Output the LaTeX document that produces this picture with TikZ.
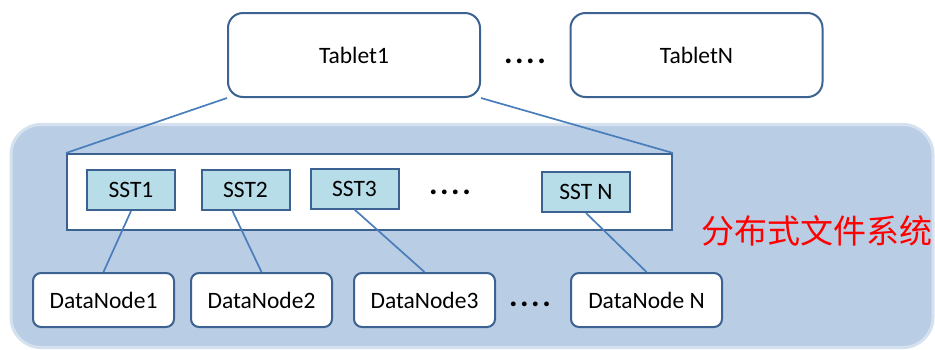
\documentclass[tikz,border=0pt]{standalone}
\usepackage{fontspec}
\setmainfont{Carlito}
\newfontfamily\cjkfont{Noto Sans CJK SC}
\definecolor{edgeblue}{HTML}{3B6290}
\definecolor{linkblue}{HTML}{4A7EBB}
\definecolor{bgblue}{HTML}{B9CDE5}
\definecolor{bgedge}{HTML}{D5E1EF}
\definecolor{sstfill}{HTML}{B7DDE8}
\newcommand{\ellipsisdots}{.\kern2.5pt.\kern2.5pt.\kern2.5pt.}
\tikzset{
  tablet/.style={draw=edgeblue, line width=2pt, fill=white, rounded corners=15pt,
    minimum width=252pt, minimum height=84pt, inner sep=0pt, font=\fontsize{23.5}{26}\selectfont},
  sstbox/.style={draw=edgeblue, line width=2pt, fill=sstfill,
    minimum width=88pt, minimum height=40pt, inner sep=0pt, font=\fontsize{23.5}{26}\selectfont},
  dnbox/.style={draw=edgeblue, line width=2pt, fill=white, rounded corners=8pt,
    minimum width=141pt, minimum height=54pt, inner sep=0pt, font=\fontsize{23.5}{26}\selectfont},
  link/.style={draw=linkblue, line width=1.7pt},
  dots/.style={inner sep=0pt, anchor=base, font=\fontsize{32}{34}\selectfont\bfseries}
}
\begin{document}
\begin{tikzpicture}[x=1pt, y=-1pt]
\useasboundingbox (0,0) rectangle (935,349);
% distributed file system background
\node[draw=bgedge, line width=3pt, fill=bgblue, rounded corners=30pt,
  minimum width=922pt, minimum height=223pt, inner sep=0pt] (dfs) at (472,236) {};
% tablets
\node[tablet] (t1) at (354,55) {Tablet1};
\node[tablet] (tn) at (696.5,55) {TabletN};
\node[dots] (tdots) at (525,63) {\ellipsisdots};
% SST container
\node[draw=edgeblue, line width=2pt, fill=white, minimum width=605pt, minimum height=76pt,
  inner sep=0pt] (fs) at (369.5,192) {};
\draw[link] (t1.south west) -- (fs.north west);
\draw[link] (t1.south east) -- (fs.north east);
% SST files
\node[sstbox] (s1) at (131,190) {SST1};
\node[sstbox] (s2) at (245.5,190) {SST2};
\node[sstbox] (s3) at (354.5,188.5) {SST3};
\node[dots] (sdots) at (450,194) {\ellipsisdots};
\node[sstbox] (sn) at (586,192) {SST N};
% data nodes
\node[dnbox] (d1) at (103.5,300) {DataNode1};
\node[dnbox] (d2) at (261.5,300) {DataNode2};
\node[dnbox] (d3) at (424.5,300) {DataNode3};
\node[dots] (ddots) at (530,306) {\ellipsisdots};
\node[dnbox, minimum width=151pt] (dn) at (646.5,300) {DataNode N};
% SST to data node links
\draw[link] (s1.south) -- (d1.north);
\draw[link] ([xshift=-13pt]s2.south) -- (d2.north);
\draw[link] (s3.south) -- (d3.north);
\draw[link] (sn.south) -- (dn.north);
% label
\node[text=red, inner sep=0pt, font=\cjkfont\fontsize{33}{36}\selectfont] (lbl) at (817,231) {分布式文件系统};
\end{tikzpicture}
\end{document}
